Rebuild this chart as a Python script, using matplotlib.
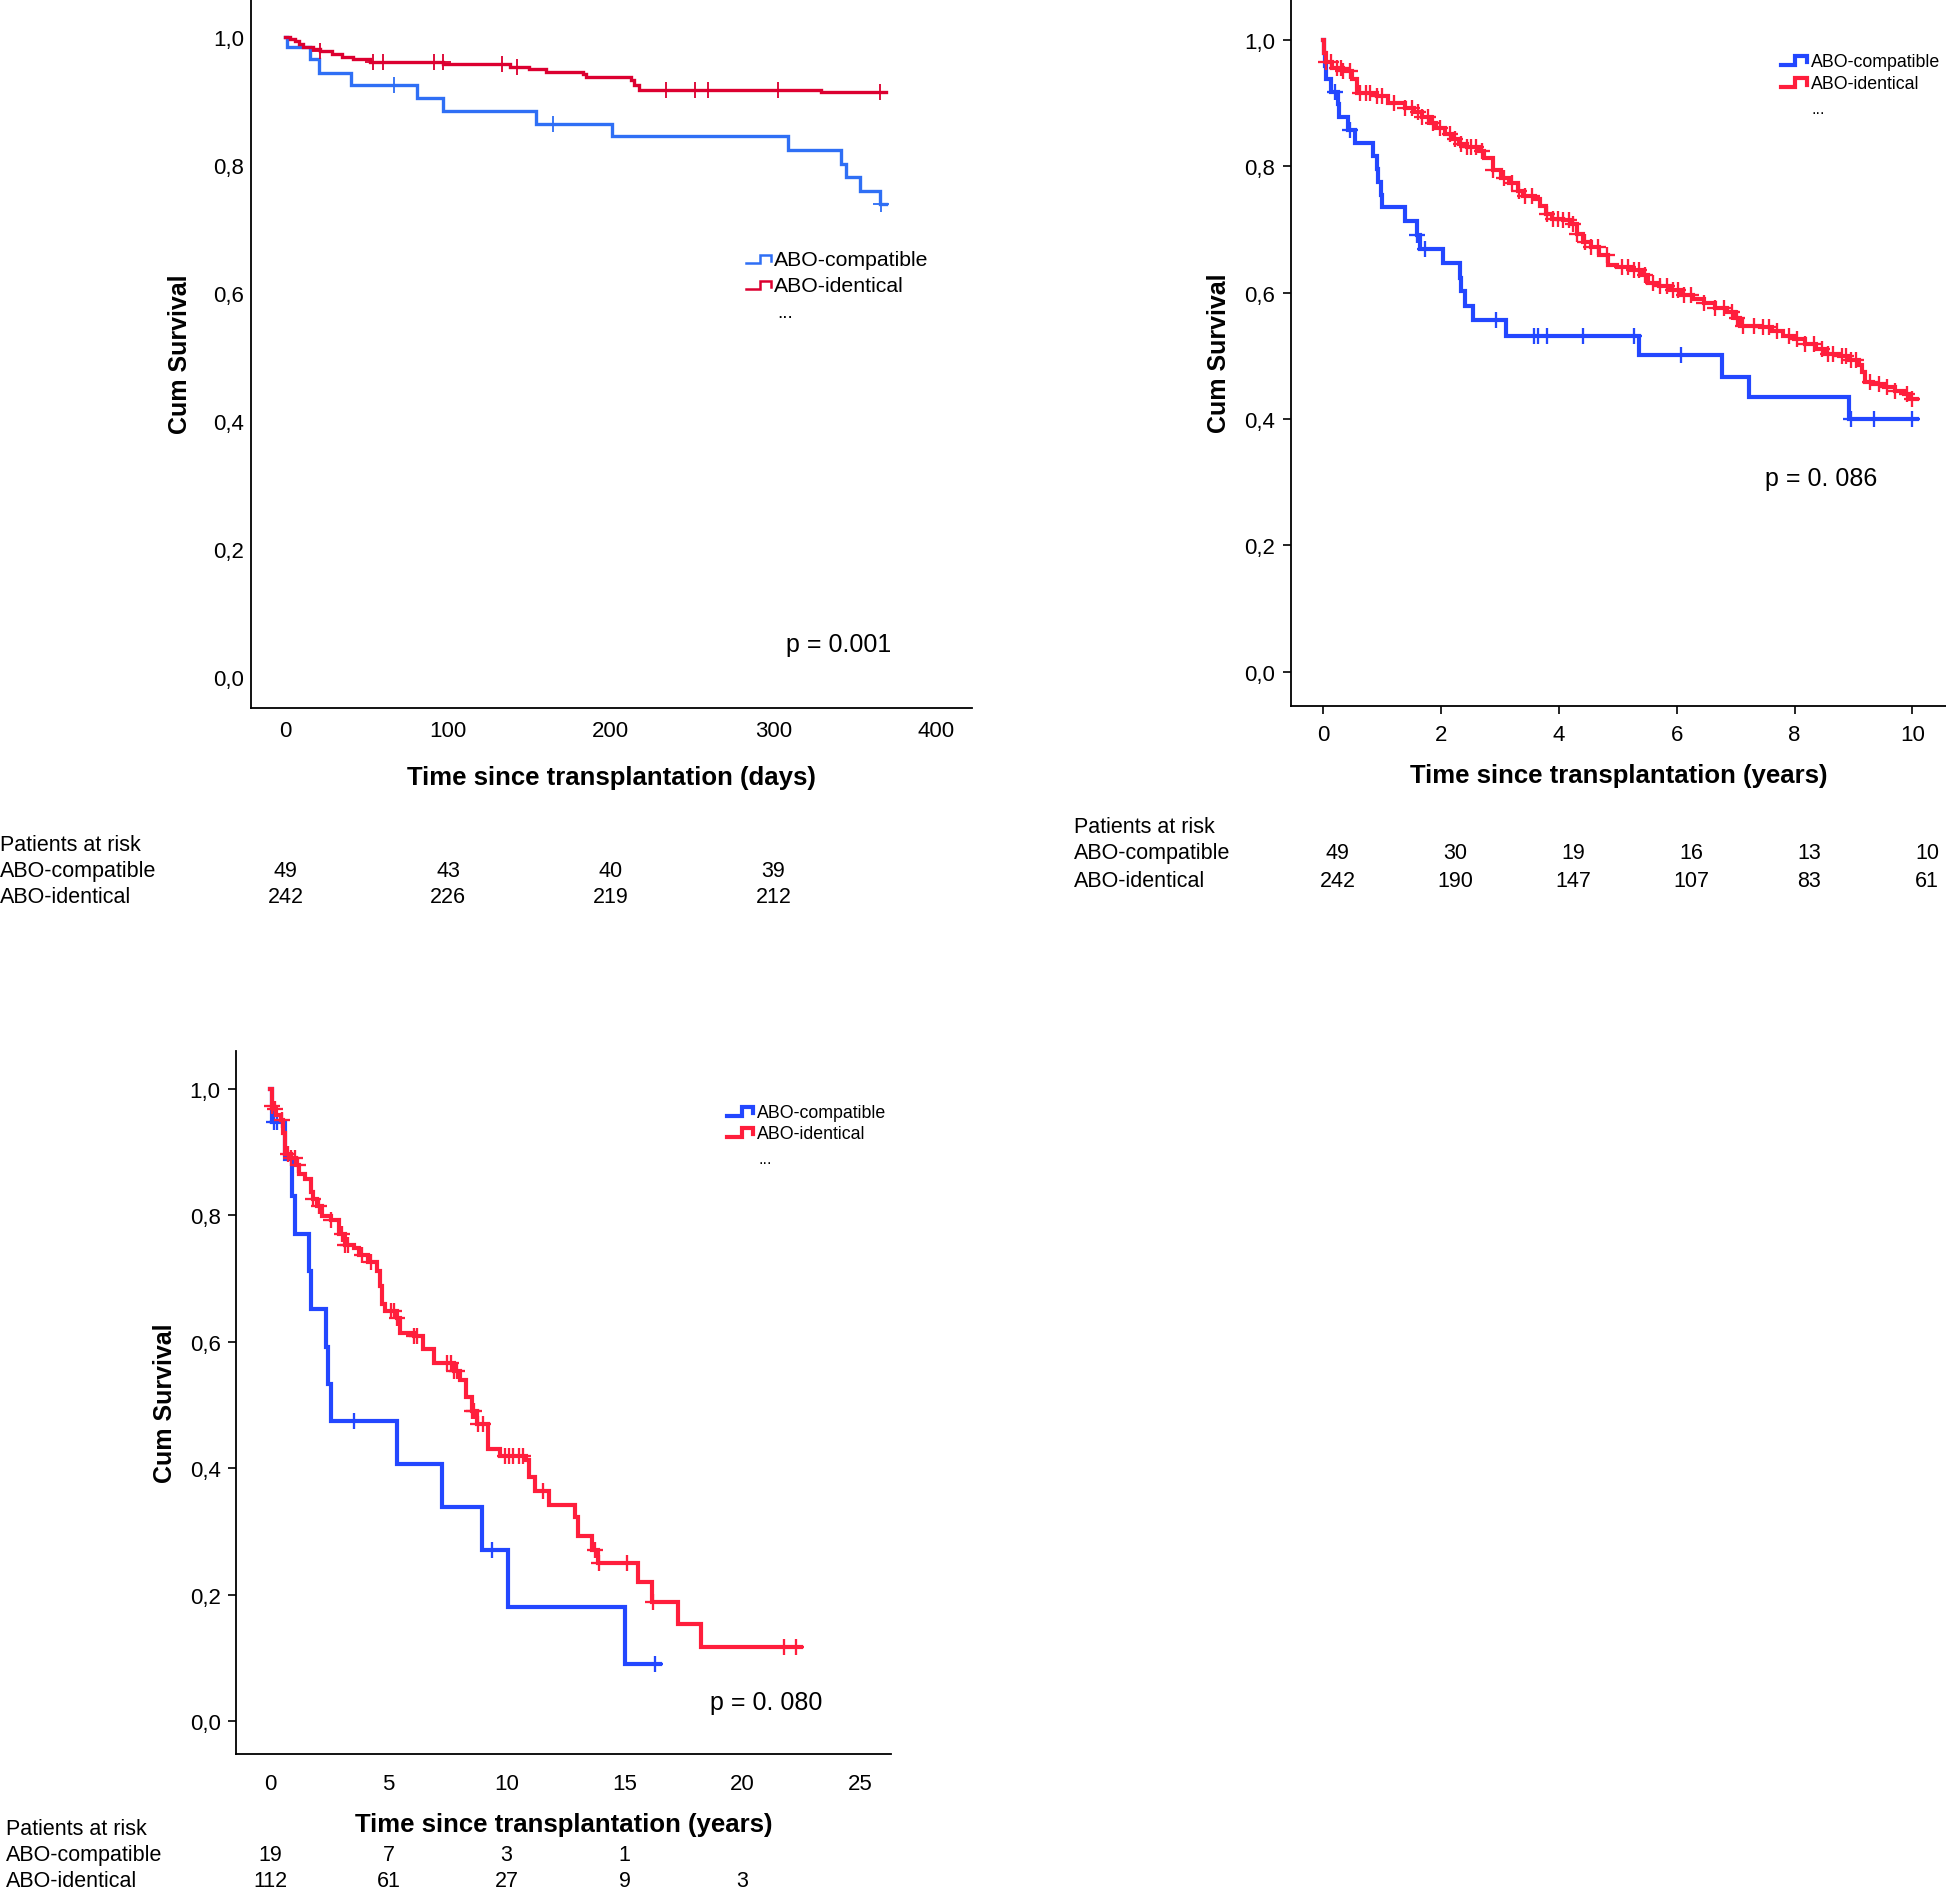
import numpy as np
import matplotlib
matplotlib.use("Agg")
import matplotlib.pyplot as plt
from matplotlib.lines import Line2D
from matplotlib.transforms import blended_transform_factory

plt.rcParams["font.family"] = ["Liberation Sans", "DejaVu Sans"]

# ---------------- data ----------------
# panel 1: first year, days
p1_comp_t = [1, 15, 20.7, 40.4, 80.7, 97, 154, 201, 309, 341.5, 344.5, 353.5, 365.5]
p1_comp_s = [0.985, 0.966, 0.944, 0.925, 0.905, 0.885, 0.865, 0.845, 0.823, 0.802, 0.781, 0.760, 0.740]
p1_comp_end = 369
p1_comp_cens = [67, 164.5, 366]

p1_iden_t = [3, 6, 8, 11, 17, 21, 28.5, 35, 41.6, 52, 97, 138, 150, 160, 183, 185, 212.7, 214, 217.6, 329]
p1_iden_s = [0.998, 0.995, 0.99, 0.985, 0.981, 0.978, 0.974, 0.97, 0.966, 0.962, 0.958, 0.954,
             0.950, 0.946, 0.942, 0.938, 0.933, 0.925, 0.918, 0.914]
p1_iden_end = 369
p1_iden_cens = [21, 54, 60, 91.4, 96.6, 133, 142.4, 234, 252, 260, 303, 365.5]

p1_ticks = [0, 100, 200, 300, 400]
p1_risk_t = [0, 100, 200, 300]
p1_risk_comp = [49, 43, 40, 39]
p1_risk_iden = [242, 226, 219, 212]
p1_pval = "p = 0.001"

# panel 2: ten years
p2_comp_t = [0.01, 0.03, 0.06, 0.13, 0.25, 0.27, 0.42, 0.55, 0.85, 0.92, 0.94, 0.98, 1.0,
             1.4, 1.6, 1.64, 2.04, 2.33, 2.35, 2.41, 2.55, 3.11, 5.37, 6.77, 7.23, 8.93]
p2_comp_s = [0.98, 0.959, 0.939, 0.918, 0.898, 0.878, 0.857, 0.837, 0.816, 0.796, 0.776, 0.755, 0.735,
             0.714, 0.692, 0.669, 0.647, 0.624, 0.602, 0.579, 0.556, 0.531, 0.501, 0.467, 0.435, 0.40]
p2_comp_end = 10.08
p2_comp_cens = [0.21, 0.46, 1.60, 1.73, 2.93, 3.58, 3.64, 3.80, 4.41, 5.27, 6.08, 8.96, 9.35, 10.0]

p2_iden_t = [0.02, 0.06, 0.15, 0.34, 0.49, 0.58, 0.92, 1.11, 1.40, 1.54, 1.68, 1.83, 1.92, 2.07,
             2.21, 2.30, 2.45, 2.64, 2.73, 2.88, 3.02, 3.16, 3.31, 3.40, 3.59, 3.69, 3.79, 3.88,
             4.07, 4.22, 4.31, 4.41, 4.55, 4.69, 4.84, 4.98, 5.22, 5.41, 5.51, 5.70, 5.89, 6.08,
             6.27, 6.46, 6.65, 6.85, 6.99, 7.08, 7.42, 7.61, 7.80, 7.99, 8.18, 8.37, 8.52, 8.76,
             8.90, 9.09, 9.14, 9.19, 9.33, 9.52, 9.71, 9.85, 9.95]
p2_iden_s = [0.979, 0.965, 0.956, 0.951, 0.939, 0.916, 0.912, 0.90, 0.892, 0.886, 0.878, 0.868,
             0.86, 0.852, 0.844, 0.836, 0.83, 0.824, 0.814, 0.794, 0.781, 0.773, 0.761, 0.753,
             0.749, 0.737, 0.725, 0.717, 0.715, 0.709, 0.693, 0.681, 0.673, 0.66, 0.644, 0.64,
             0.636, 0.628, 0.616, 0.61, 0.604, 0.596, 0.59, 0.584, 0.576, 0.569, 0.56, 0.548,
             0.546, 0.54, 0.532, 0.526, 0.519, 0.511, 0.503, 0.499, 0.494, 0.485, 0.475, 0.459,
             0.455, 0.451, 0.445, 0.439, 0.431]
p2_iden_end = 10.08
p2_iden_cens = [0.06, 0.13, 0.23, 0.30, 0.34, 0.46, 0.63, 0.73, 0.80, 0.92, 1.01, 1.20, 1.40,
                1.51, 1.61, 1.68, 1.78, 1.87, 1.99, 2.16, 2.24, 2.35, 2.45, 2.52, 2.59, 2.69,
                2.88, 3.07, 3.21, 3.33, 3.42, 3.55, 3.80, 3.90, 3.98, 4.07, 4.17, 4.24, 4.31,
                4.44, 4.55, 4.67, 4.82, 5.08, 5.17, 5.27, 5.36, 5.46, 5.60, 5.72, 5.84, 5.94,
                6.03, 6.13, 6.25, 6.46, 6.65, 6.80, 6.94, 7.02, 7.13, 7.32, 7.47, 7.56, 7.71,
                7.90, 8.04, 8.18, 8.33, 8.47, 8.57, 8.66, 8.81, 8.87, 8.95, 9.04, 9.28, 9.43,
                9.57, 9.71, 9.90, 9.99]

p2_ticks = [0, 2, 4, 6, 8, 10]
p2_risk_t = [0, 2, 4, 6, 8, 10]
p2_risk_comp = [49, 30, 19, 16, 13, 10]
p2_risk_iden = [242, 190, 147, 107, 83, 61]
p2_pval = "p = 0. 086"

# panel 3: long term
p3_comp_t = [0.05, 0.61, 0.9, 1.02, 1.63, 1.70, 2.36, 2.43, 2.55, 5.35, 7.25, 8.95, 10.07, 15.04]
p3_comp_s = [0.947, 0.889, 0.830, 0.770, 0.711, 0.652, 0.592, 0.533, 0.474, 0.407, 0.339,
             0.271, 0.181, 0.090]
p3_comp_end = 16.5
p3_comp_cens = [0.15, 0.29, 3.53, 9.37, 16.3]

p3_iden_t = [0.05, 0.15, 0.24, 0.44, 0.54, 0.61, 0.85, 1.09, 1.22, 1.46, 1.70, 1.82, 1.95, 2.19,
             2.55, 2.92, 3.16, 3.53, 3.77, 4.14, 4.50, 4.62, 4.74, 4.87, 5.35, 5.47, 6.08, 6.45,
             6.93, 7.79, 8.03, 8.27, 8.52, 8.76, 9.20, 9.73, 10.83, 10.95, 11.19, 11.80, 12.90,
             13.02, 13.63, 13.87, 15.57, 16.18, 17.27, 18.25]
p3_iden_s = [0.973, 0.967, 0.959, 0.951, 0.929, 0.896, 0.89, 0.879, 0.865, 0.857, 0.836, 0.825,
             0.814, 0.799, 0.792, 0.77, 0.753, 0.748, 0.737, 0.726, 0.712, 0.688, 0.66, 0.649,
             0.638, 0.613, 0.609, 0.589, 0.567, 0.554, 0.539, 0.512, 0.49, 0.47, 0.43, 0.419,
             0.413, 0.386, 0.364, 0.342, 0.323, 0.293, 0.271, 0.251, 0.221, 0.189, 0.154, 0.117]
p3_iden_end = 22.5
p3_iden_cens = [0.05, 0.19, 0.49, 0.73, 0.85, 1.02, 1.17, 1.82, 2.07, 2.55, 3.04, 3.16, 3.28,
                3.89, 4.26, 5.11, 5.23, 5.35, 6.08, 6.20, 7.49, 7.66, 7.79, 7.91, 8.52, 8.64,
                8.81, 9.00, 9.93, 10.10, 10.29, 10.54, 10.71, 11.56, 13.75, 13.92, 15.09,
                16.23, 21.78, 22.26]

p3_ticks = [0, 5, 10, 15, 20, 25]
p3_risk_t_comp = [0, 5, 10, 15]
p3_risk_comp = [19, 7, 3, 1]
p3_risk_t_iden = [0, 5, 10, 15, 20]
p3_risk_iden = [112, 61, 27, 9, 3]
p3_pval = "p = 0. 080"

groups = ["ABO-compatible", "ABO-identical"]
yticks = [0.0, 0.2, 0.4, 0.6, 0.8, 1.0]
ytick_labels = ["0,0", "0,2", "0,4", "0,6", "0,8", "1,0"]

# ---------------- layout helpers (reference pixel grid 1568 x 1523) ----------------
W, H = 1568.0, 1523.0


def fx(x):
    return x / W


def fy(y):
    return 1 - y / H


fig = plt.figure(figsize=(19.46, 18.90), dpi=100)


def make_axes(left, right, top, bottom):
    return fig.add_axes([fx(left), fy(bottom), fx(right) - fx(left), (bottom - top) / H])


def km(ax, times, surv, t_end, cens, color, lw, ms):
    x = np.concatenate([[0.0], times, [t_end]])
    y = np.concatenate([[1.0], surv, [surv[-1]]])
    ax.step(x, y, where="post", color=color, lw=lw, solid_joinstyle="miter")
    t = np.asarray(times)
    s = np.asarray(surv)
    idx = np.searchsorted(t, cens, side="right")
    cy = np.where(idx > 0, s[np.maximum(idx - 1, 0)], 1.0)
    ax.plot(cens, cy, ls="none", marker="+", color=color, ms=ms, mew=lw * 0.55)


def style(ax, xlim, ylim, xticks, xtick_len, ytick_len, xpad):
    ax.set_xlim(*xlim)
    ax.set_ylim(*ylim)
    for s in ["top", "right"]:
        ax.spines[s].set_visible(False)
    for s in ["left", "bottom"]:
        ax.spines[s].set_linewidth(1.3)
    ax.set_xticks(xticks)
    ax.set_yticks(yticks)
    ax.set_yticklabels(ytick_labels)
    ax.tick_params(axis="x", length=xtick_len, width=1.2, labelsize=16, pad=xpad)
    ax.tick_params(axis="y", length=ytick_len, width=1.2, labelsize=16, pad=5)


def legend(x0, x1, ys, dots, colors, lw, fs):
    for y, c, lab in zip(ys, colors, groups):
        hx = [x0, x0 + (x1 - x0) * 0.55, x0 + (x1 - x0) * 0.55, x1, x1]
        hy = [y + 3, y + 3, y - 4, y - 4, y + 1]
        fig.add_artist(Line2D([fx(v) for v in hx], [fy(v) for v in hy], color=c, lw=lw,
                              transform=fig.transFigure, solid_joinstyle="miter"))
        fig.text(fx(x1 + 3), fy(y), lab, fontsize=fs, ha="left", va="center")
    fig.text(fx(dots[0]), fy(dots[1]), "...", fontsize=fs * 0.9, ha="left", va="center")


def risk_table(ax, head_x, ys, t_comp, n_comp, t_iden, n_iden, offset):
    fig.text(fx(head_x), fy(ys[0]), "Patients at risk", fontsize=15.5, ha="left", va="center")
    fig.text(fx(head_x), fy(ys[1]), groups[0], fontsize=15.5, ha="left", va="center")
    fig.text(fx(head_x), fy(ys[2]), groups[1], fontsize=15.5, ha="left", va="center")
    tr = blended_transform_factory(ax.transData, fig.transFigure)
    for t, n in zip(t_comp, n_comp):
        fig.text(t + offset, fy(ys[1]), str(n), fontsize=15.5, ha="center", va="center", transform=tr)
    for t, n in zip(t_iden, n_iden):
        fig.text(t + offset, fy(ys[2]), str(n), fontsize=15.5, ha="center", va="center", transform=tr)


# ---------------- panel 1 ----------------
blue1, red1 = "#2f6ff5", "#dc0030"
ax1 = make_axes(202, 783, 0, 571)
km(ax1, p1_comp_t, p1_comp_s, p1_comp_end, p1_comp_cens, blue1, 2.4, 11)
km(ax1, p1_iden_t, p1_iden_s, p1_iden_end, p1_iden_cens, red1, 2.4, 11)
style(ax1, (-21.4, 422), (-0.0485, 1.060), p1_ticks, 0, 0, 9)
ax1.set_xlabel("Time since transplantation (days)", fontsize=18.5, fontweight="bold", labelpad=17)
ax1.set_ylabel("Cum Survival", fontsize=18, fontweight="bold", labelpad=15)
fig.text(fx(676), fy(520), p1_pval, fontsize=18, ha="center", va="center")
legend(601, 621, [210, 231], (626, 253), [blue1, red1], 1.8, 15.3)
risk_table(ax1, 0, [681, 702, 723], p1_risk_t, p1_risk_comp, p1_risk_t, p1_risk_iden, 0)

# ---------------- panel 2 ----------------
blue2, red2 = "#2347ff", "#ff1e3c"
ax2 = make_axes(1040, 1568, 0, 570)
km(ax2, p2_comp_t, p2_comp_s, p2_comp_end, p2_comp_cens, blue2, 3.0, 11)
km(ax2, p2_iden_t, p2_iden_s, p2_iden_end, p2_iden_cens, red2, 3.0, 11)
style(ax2, (-0.547, 10.57), (-0.055, 1.065), p2_ticks, 6, 6, 7)
ax2.set_xlabel("Time since transplantation (years)", fontsize=18.5, fontweight="bold", labelpad=13)
ax2.set_ylabel("Cum Survival", fontsize=18, fontweight="bold", labelpad=10)
fig.text(fx(1467), fy(386), p2_pval, fontsize=18, ha="center", va="center")
legend(1435, 1456, [50, 68], (1460, 88), [blue2, red2], 3.0, 12.8)
risk_table(ax2, 865, [667, 688, 710], p2_risk_t, p2_risk_comp, p2_risk_t, p2_risk_iden, 0.25)

# ---------------- panel 3 ----------------
ax3 = make_axes(190, 718, 848, 1414)
km(ax3, p3_comp_t, p3_comp_s, p3_comp_end, p3_comp_cens, blue2, 3.0, 11)
km(ax3, p3_iden_t, p3_iden_s, p3_iden_end, p3_iden_cens, red2, 3.0, 11)
style(ax3, (-1.47, 26.3), (-0.051, 1.0588), p3_ticks, 0, 6, 14)
ax3.set_xlabel("Time since transplantation (years)", fontsize=18.5, fontweight="bold", labelpad=13)
ax3.set_ylabel("Cum Survival", fontsize=18, fontweight="bold", labelpad=9)
fig.text(fx(617), fy(1372), p3_pval, fontsize=18, ha="center", va="center")
legend(586, 607, [897, 914], (611, 934), [blue2, red2], 3.0, 12.8)
risk_table(ax3, 5, [1474, 1495, 1516], p3_risk_t_comp, p3_risk_comp, p3_risk_t_iden, p3_risk_iden, 0)

fig.savefig("out.png", dpi=100)
